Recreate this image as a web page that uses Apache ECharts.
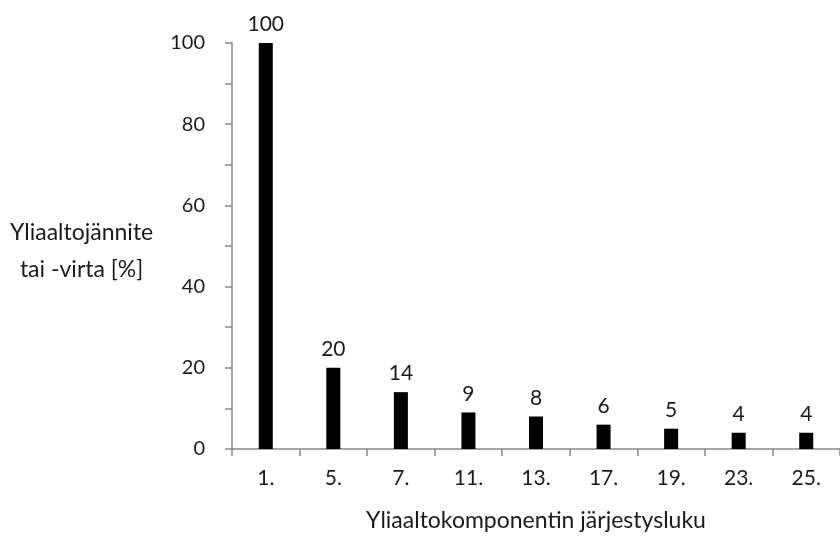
<!DOCTYPE html>
<html>
<head>
<meta charset="utf-8">
<script src="https://cdn.jsdelivr.net/npm/echarts@6/dist/echarts.min.js"></script>
<style>html,body{margin:0;padding:0;background:#fff}#c{width:840px;height:537px}</style>
</head>
<body>
<div id="c"></div>
<script>
const categories = ['1.', '5.', '7.', '11.', '13.', '17.', '19.', '23.', '25.'];
const values = [100, 20, 14, 9, 8, 6, 5, 4, 4];
const yTicks = [0, 20, 40, 60, 80, 100];
const yAxisTitle = 'Yliaaltojännite\ntai -virta [%]';
const xAxisTitle = 'Yliaaltokomponentin järjestysluku';

const FONT = 'Lato, "Open Sans", sans-serif';
const TXT = '#1a1a1a';
const chart = echarts.init(document.getElementById('c'), null, {renderer: 'canvas'});
chart.setOption({
  animation: false,
  backgroundColor: '#fff',
  grid: {left: 232, top: 43, width: 616, height: 408},
  xAxis: {
    type: 'category',
    data: categories,
    axisLine: {lineStyle: {color: '#888', width: 1.5}},
    axisTick: {show: true, alignWithLabel: false, length: 7, lineStyle: {color: '#888', width: 1.5}},
    axisLabel: {color: TXT, fontSize: 21, fontFamily: FONT, margin: 19},
    name: xAxisTitle,
    nameLocation: 'middle',
    nameGap: 60,
    nameTextStyle: {color: TXT, fontSize: 23, fontFamily: FONT}
  },
  yAxis: {
    type: 'value',
    min: 0, max: 100, interval: 10,
    splitLine: {show: false},
    axisLine: {show: true, lineStyle: {color: '#888', width: 1.5}},
    axisTick: {show: true, length: 7, lineStyle: {color: '#888', width: 1.5}},
    axisLabel: {
      color: TXT, fontSize: 20, fontFamily: FONT, margin: 27,
      formatter: v => yTicks.includes(v) ? String(v) : ''
    }
  },
  graphic: [{
    type: 'text',
    left: 10, top: 214,
    style: {text: yAxisTitle, fill: TXT, font: '23px ' + FONT, textAlign: 'center', lineHeight: 37}
  }],
  series: [{
    type: 'bar',
    data: values,
    barWidth: 14,
    itemStyle: {color: '#000'},
    label: {show: true, position: 'top', distance: 8, color: TXT, fontSize: 21, fontFamily: FONT}
  }]
});
</script>
</body>
</html>
